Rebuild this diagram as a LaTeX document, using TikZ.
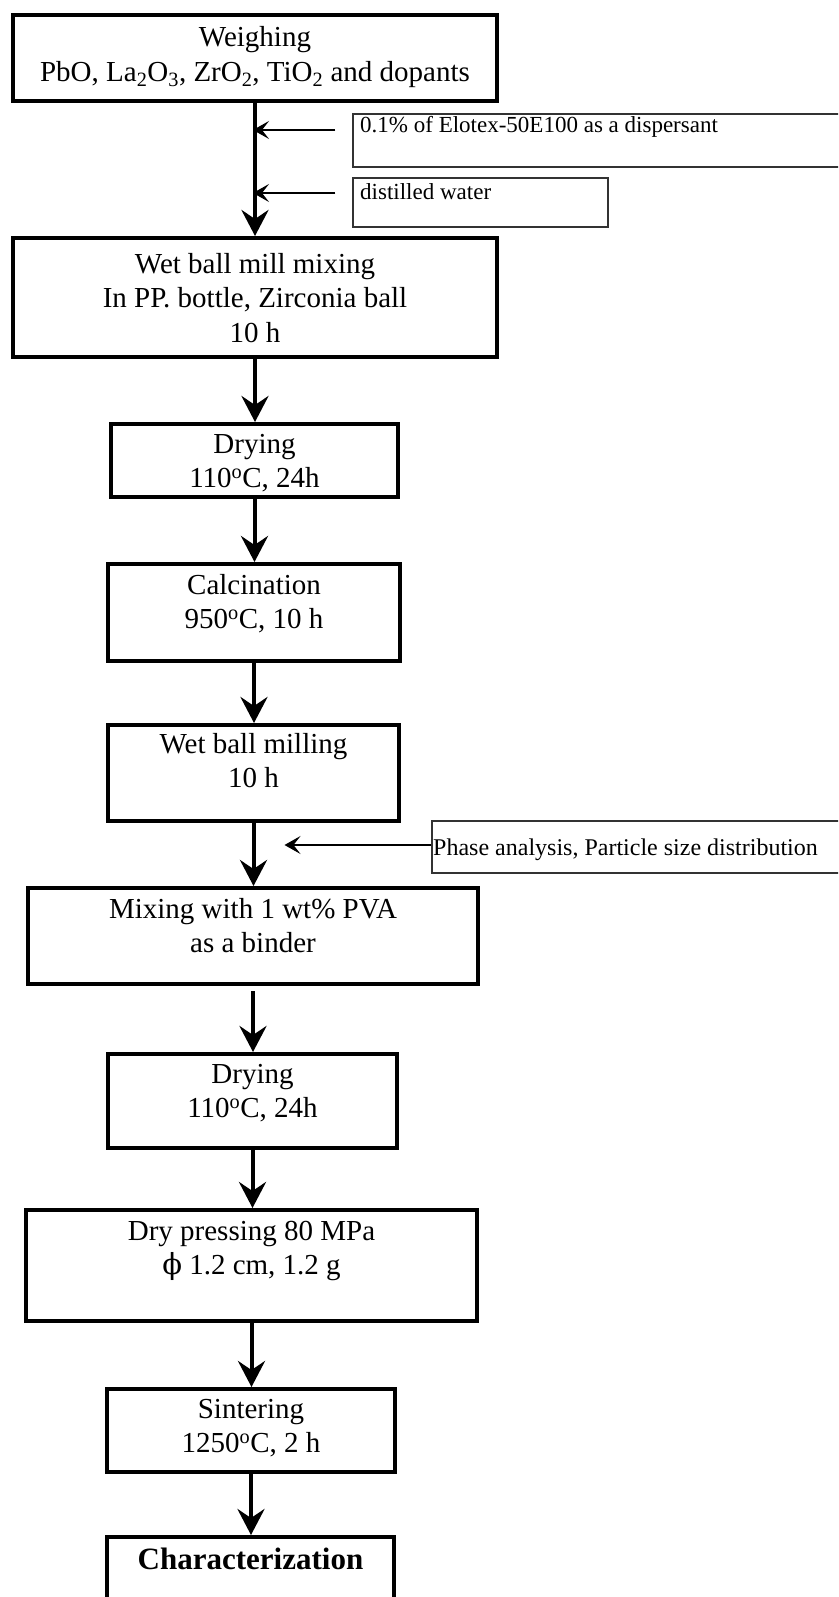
\documentclass[tikz,border=0pt]{standalone}
\usepackage{fontspec}
\setmainfont{Liberation Serif}
\newfontfamily\dvs{DejaVu Serif}
\usetikzlibrary{arrows.meta}
\newcommand{\stk}[1]{\begin{tabular}[t]{@{}c@{}}#1\end{tabular}}
\newcommand{\dg}{\textsuperscript{o}}
\begin{document}
\begin{tikzpicture}[x=1pt,y=-1pt,
  box/.style={draw, line width=4pt, rectangle, inner sep=0pt},
  sbox/.style={draw=black!80, line width=1.5pt, rectangle, inner sep=0pt},
  txt/.style={inner sep=0pt, anchor=base, font=\fontsize{29}{34.5}\selectfont},
  stxt/.style={inner sep=0pt, anchor=base west, font=\fontsize{23}{27}\selectfont},
  main/.style={line width=4pt, -{Stealth[length=26pt,width=27pt,inset=9pt]}},
  side/.style={line width=1.6pt, -{Stealth[length=16pt,width=18pt,inset=7pt]}}]
\useasboundingbox (0,0) rectangle (838,1597);
\clip (0,0) rectangle (838,1597);
\fill[white] (0,0) rectangle (838,1597);
% main boxes
\node[box, minimum width=484pt, minimum height=86pt]  (b1)  at (255,58) {};
\node[box, minimum width=484pt, minimum height=119pt] (b2)  at (255,297.5) {};
\node[box, minimum width=287pt, minimum height=73pt]  (b3)  at (254.5,460.5) {};
\node[box, minimum width=292pt, minimum height=97pt]  (b4)  at (254,612.5) {};
\node[box, minimum width=291pt, minimum height=96pt]  (b5)  at (253.5,773) {};
\node[box, minimum width=450pt, minimum height=96pt]  (b6)  at (253,936) {};
\node[box, minimum width=289pt, minimum height=94pt]  (b7)  at (252.5,1101) {};
\node[box, minimum width=451pt, minimum height=111pt] (b8)  at (251.5,1265.5) {};
\node[box, minimum width=288pt, minimum height=83pt]  (b9)  at (251,1430.5) {};
\node[box, minimum width=287pt, minimum height=103pt] (b10) at (250.5,1588.5) {};
% texts
\node[txt] (t1) at (255,47) {\stk{Weighing\\PbO, La\textsubscript{2}O\textsubscript{3}, ZrO\textsubscript{2}, TiO\textsubscript{2} and dopants}};
\node[txt] (t2) at (255,273) {\stk{Wet ball mill mixing\\In PP. bottle, Zirconia ball\\10 h}};
\node[txt] (t3) at (254.5,453) {\stk{Drying\\110\dg C, 24h}};
\node[txt] (t4) at (254,594) {\stk{Calcination\\950\dg C, 10 h}};
\node[txt] (t5) at (253.5,753) {\stk{Wet ball milling\\10 h}};
\node[txt] (t6) at (253,918) {\stk{Mixing with 1 wt\% PVA\\as a binder}};
\node[txt] (t7) at (252.5,1083) {\stk{Drying\\110\dg C, 24h}};
\node[txt] (t8) at (251.5,1240) {\stk{Dry pressing 80 MPa\\{\dvs ϕ} 1.2 cm, 1.2 g}};
\node[txt] (t9) at (251,1418) {\stk{Sintering\\1250\dg C, 2 h}};
\node[txt, font=\fontsize{31}{36}\selectfont\bfseries] (t10) at (250.5,1569) {Characterization};
% side boxes
\node[sbox, minimum width=497pt, minimum height=53pt] (d1) at (601.5,140.5) {};
\node[sbox, minimum width=255pt, minimum height=49pt] (d2) at (480.5,202.5) {};
\node[sbox, minimum width=420pt, minimum height=52pt] (p)  at (642,847) {};
\node[stxt] (s1) at (360,133) {0.1\% of Elotex-50E100 as a dispersant};
\node[stxt] (s2) at (360,200) {distilled water};
\node[stxt, font=\fontsize{24}{28}\selectfont] (s3) at (433,855) {Phase analysis, Particle size distribution};
% main arrows
\draw[main] (b1.south) -- (b1.south |- b2.north);
\draw[main] (b2.south) -- (b2.south |- b3.north);
\draw[main] (b3.south) -- (b3.south |- b4.north);
\draw[main] (b4.south) -- (b4.south |- b5.north);
\draw[main] (b5.south) -- (b5.south |- b6.north);
\draw[main, shorten <=5pt] (b6.south) -- (b6.south |- b7.north);
\draw[main] (b7.south) -- (b7.south |- b8.north);
\draw[main] (b8.south) -- (b8.south |- b9.north);
\draw[main] (b9.south) -- (b9.south |- b10.north);
% side arrows
\draw[side, shorten <=17pt, shorten >=-2pt] ([yshift=10.5pt]d1.west) -- ([yshift=10.5pt]d1.west -| b1.south);
\draw[side, shorten <=17pt, shorten >=-2pt] ([yshift=9.5pt]d2.west) -- ([yshift=9.5pt]d2.west -| b1.south);
\draw[side, shorten >=31pt] ([yshift=2pt]p.west) -- ([yshift=2pt]p.west -| b5.south);
\end{tikzpicture}
\end{document}
